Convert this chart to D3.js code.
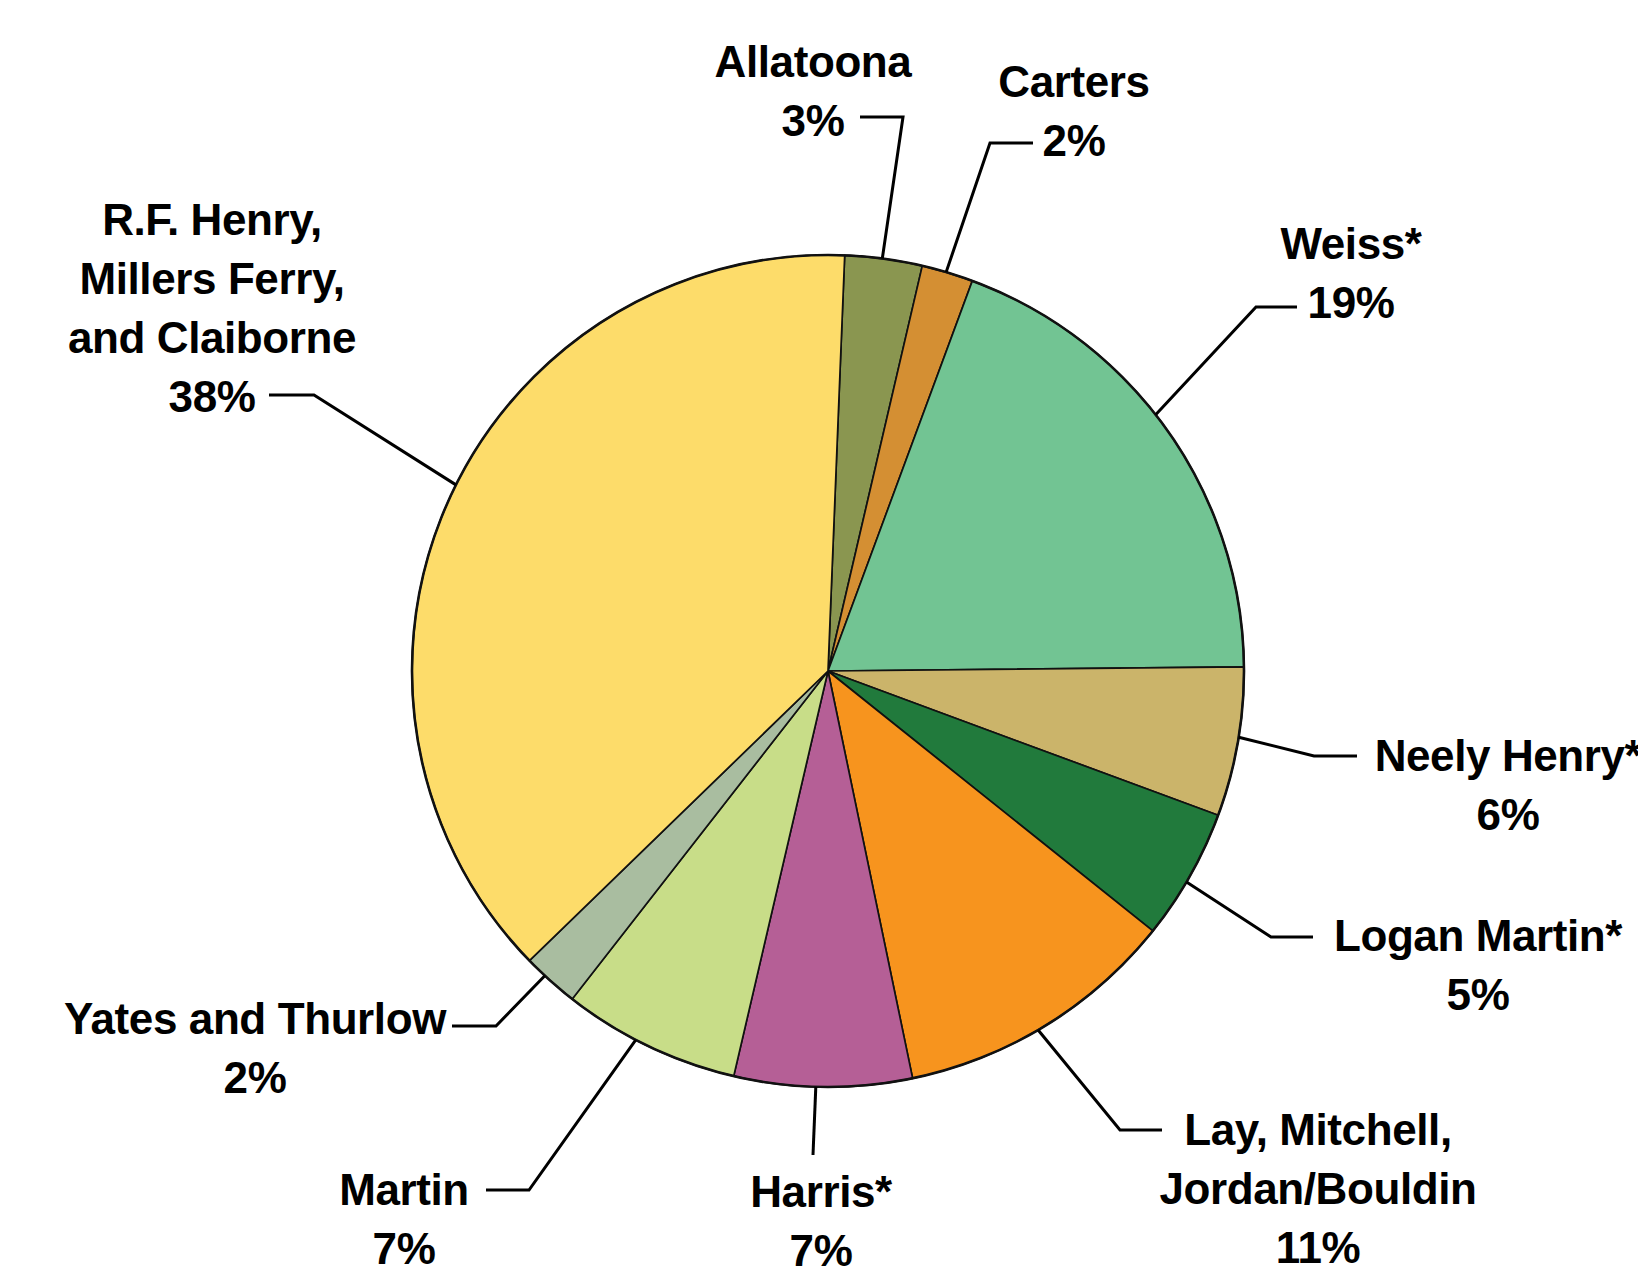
<!DOCTYPE html>
<html>
<head>
<meta charset="utf-8">
<script src="https://cdn.jsdelivr.net/npm/d3@7"></script>
<style>
  html, body { margin: 0; padding: 0; background: #fff; overflow: hidden; }
  svg { display: block; }
  .lbl { font-family: "Liberation Sans", Arial, sans-serif; font-weight: 700; font-size: 44px; letter-spacing: -0.4px; fill: #000; }
</style>
</head>
<body>
<svg id="chart" width="1638" height="1273"></svg>
<script>
// reservoirs, clockwise from the top
const names = ["Allatoona", "Carters", "Weiss*", "Neely Henry*", "Logan Martin*",
  "Lay, Mitchell, Jordan/Bouldin", "Harris*", "Martin", "Yates and Thurlow",
  "R.F. Henry, Millers Ferry, and Claiborne"];
const nameLines = [["Allatoona"], ["Carters"], ["Weiss*"], ["Neely Henry*"], ["Logan Martin*"],
  ["Lay, Mitchell,", "Jordan/Bouldin"], ["Harris*"], ["Martin"], ["Yates and Thurlow"],
  ["R.F. Henry,", "Millers Ferry,", "and Claiborne"]];
const shares = [3.0, 2.0, 19.2, 5.8, 5.1, 11.0, 6.9, 6.9, 2.2, 37.9];
const pctLabels = ["3%", "2%", "19%", "6%", "5%", "11%", "7%", "7%", "2%", "38%"];
const colors = ["#8a9650", "#d48f33", "#72c493", "#cbb46a", "#217a3c",
  "#f7941e", "#b55f96", "#c8dd88", "#a9bda0", "#fddc6a"];

// hand placed labels: leader nudge (deg), elbow, end of leader, text centre, first baseline
const labelLayout = [
  { nudge: -0.2, elbow: [903, 117], end: [860, 117], tx: 813, ty: 77 },
  { nudge: -0.2, elbow: [990, 143], end: [1033, 143], tx: 1074, ty: 97 },
  { nudge: -2.9, elbow: [1256, 307], end: [1297, 307], tx: 1351, ty: 259 },
  { nudge: -0.7, elbow: [1314, 756], end: [1357, 756], tx: 1508, ty: 771 },
  { nudge: 1.0, elbow: [1271, 937], end: [1313, 937], tx: 1478, ty: 951 },
  { nudge: 1.2, elbow: [1120, 1130], end: [1162, 1130], tx: 1318, ty: 1145 },
  { nudge: 1.0, elbow: null, end: [813, 1155], tx: 821, ty: 1207 },
  { nudge: 2.0, elbow: [529, 1190], end: [486, 1190], tx: 404, ty: 1205 },
  { nudge: 1.0, elbow: [496, 1026], end: [452, 1026], tx: 255, ty: 1034 },
  { nudge: 2.5, elbow: [314, 395], end: [269, 395], tx: 212, ty: 235 }
];

const cx = 828, cy = 671, r = 416;
const lineH = 59;
const start = 2.3 * Math.PI / 180;

const data = names.map((n, i) => ({ name: n, value: shares[i], i }));

const pie = d3.pie().sort(null).value((d) => d.value).startAngle(start).endAngle(start + 2 * Math.PI);
const arc = d3.arc().innerRadius(0).outerRadius(r);
const arcs = pie(data);

const svg = d3.select("#chart");
const g = svg.append("g").attr("transform", `translate(${cx},${cy})`);

g.selectAll("path.slice")
  .data(arcs)
  .join("path")
  .attr("class", "slice")
  .attr("d", arc)
  .attr("fill", (d) => colors[d.data.i])
  .attr("stroke", "#111")
  .attr("stroke-width", 1.7)
  .attr("stroke-linejoin", "round");

g.append("circle").attr("r", r).attr("fill", "none").attr("stroke", "#111").attr("stroke-width", 2.6);

// leader lines
const lines = svg.append("g");
arcs.forEach((d) => {
  const L = labelLayout[d.data.i];
  const a = (d.startAngle + d.endAngle) / 2 + L.nudge * Math.PI / 180;
  const p0 = [cx + r * Math.sin(a), cy - r * Math.cos(a)];
  const pts = L.elbow ? [p0, L.elbow, L.end] : [p0, L.end];
  lines.append("path")
    .attr("d", d3.line()(pts))
    .attr("fill", "none")
    .attr("stroke", "#000")
    .attr("stroke-width", 3);
});

// labels
const texts = svg.append("g");
arcs.forEach((d) => {
  const L = labelLayout[d.data.i];
  const rows = nameLines[d.data.i].concat([pctLabels[d.data.i]]);
  const t = texts.append("text").attr("class", "lbl").attr("text-anchor", "middle");
  rows.forEach((row, k) => {
    t.append("tspan").attr("x", L.tx).attr("y", L.ty + k * lineH).text(row);
  });
});
</script>
</body>
</html>
